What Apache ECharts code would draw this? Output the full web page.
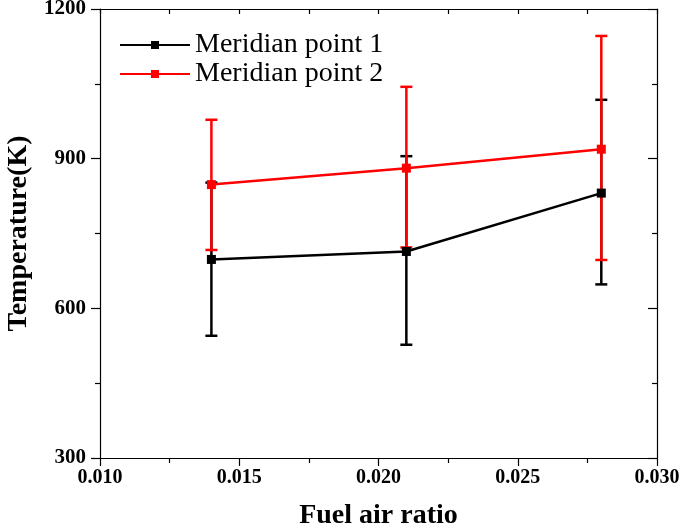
<!DOCTYPE html>
<html><head><meta charset="utf-8">
<script src="https://cdn.jsdelivr.net/npm/echarts@6/dist/echarts.min.js"></script>
<style>html,body{margin:0;padding:0;background:#fff}#c{width:685px;height:526px}</style>
</head><body><div id="c"></div>
<script>
const xValues = [0.014, 0.021, 0.028];
const s1Name = 'Meridian point 1';
const s1Mean = [698, 714, 831];
const s1Low = [545, 527, 648];
const s1High = [852, 905, 1018];
const s2Name = 'Meridian point 2';
const s2Mean = [848, 881, 919];
const s2Low = [717, 722, 697];
const s2High = [978, 1044, 1146];
const xTicks = [0.010, 0.015, 0.020, 0.025, 0.030];
const yTicks = [300, 600, 900, 1200];

const chart = echarts.init(document.getElementById('c'), null, {renderer: 'canvas'});
const serif = '"Liberation Serif", "Times New Roman", serif';

function errSeries(color, low, high) {
  return {
    type: 'custom',
    xAxisIndex: 0, yAxisIndex: 0,
    data: xValues.map((x, i) => [x, low[i], high[i]]),
    z: 3,
    renderItem: function (params, api) {
      const lo = api.coord([api.value(0), api.value(1)]);
      const hi = api.coord([api.value(0), api.value(2)]);
      const w = 6;
      const st = {stroke: color, lineWidth: 2.5};
      return {
        type: 'group',
        children: [
          {type: 'line', shape: {x1: lo[0], y1: lo[1], x2: hi[0], y2: hi[1]}, style: st},
          {type: 'line', shape: {x1: lo[0] - w, y1: lo[1], x2: lo[0] + w, y2: lo[1]}, style: st},
          {type: 'line', shape: {x1: hi[0] - w, y1: hi[1], x2: hi[0] + w, y2: hi[1]}, style: st}
        ]
      };
    }
  };
}

const axisLineStyle = {lineStyle: {color: '#000', width: 1.2}};
chart.setOption({
  animation: false,
  backgroundColor: '#fff',
  grid: {left: 100, right: 28, top: 9, bottom: 68, outerBoundsMode: 'none', containLabel: false},
  legend: {
    left: 114, top: 26, orient: 'vertical', itemGap: 1,
    itemWidth: 70, itemHeight: 10,
    textStyle: {fontFamily: serif, fontSize: 28, color: '#000', padding: [0, 0, 0, 0]},
    data: [s1Name, s2Name]
  },
  xAxis: [{
    type: 'value', min: 0.010, max: 0.030, interval: 0.005,
    position: 'bottom',
    name: 'Fuel air ratio', nameLocation: 'middle', nameGap: 44,
    nameTextStyle: {fontFamily: serif, fontSize: 28, fontWeight: 'bold', color: '#000'},
    axisLine: axisLineStyle,
    axisTick: {show: true, inside: false, length: 8, lineStyle: {color: '#000', width: 1.2}},
    minorTick: {show: true, splitNumber: 2, length: 5, lineStyle: {color: '#000', width: 1.2}},
    axisLabel: {fontFamily: serif, fontSize: 20, fontWeight: 'bold', color: '#000', margin: 10,
      formatter: v => v.toFixed(3)},
    splitLine: {show: false}
  }, {
    type: 'value', min: 0.010, max: 0.030, interval: 0.005,
    position: 'top',
    axisLine: axisLineStyle,
    axisTick: {show: true, inside: true, length: 5, lineStyle: {color: '#000', width: 1.2}},
    minorTick: {show: true, splitNumber: 2, length: 5, lineStyle: {color: '#000', width: 1.2}},
    axisLabel: {show: false},
    splitLine: {show: false}
  }],
  yAxis: [{
    type: 'value', min: 300, max: 1200, interval: 300,
    position: 'left',
    name: 'Temperature(K)', nameLocation: 'middle', nameGap: 66,
    nameTextStyle: {fontFamily: serif, fontSize: 28, fontWeight: 'bold', color: '#000'},
    axisLine: axisLineStyle,
    axisTick: {show: true, inside: false, length: 9, lineStyle: {color: '#000', width: 1.2}},
    minorTick: {show: true, splitNumber: 2, length: 5, lineStyle: {color: '#000', width: 1.2}},
    axisLabel: {fontFamily: serif, fontSize: 21, fontWeight: 'bold', color: '#000', margin: 14,
      formatter: v => String(v)},
    splitLine: {show: false}
  }, {
    type: 'value', min: 300, max: 1200, interval: 300,
    position: 'right',
    axisLine: axisLineStyle,
    axisTick: {show: true, inside: true, length: 9, lineStyle: {color: '#000', width: 1.2}},
    minorTick: {show: true, splitNumber: 2, length: 5, lineStyle: {color: '#000', width: 1.2}},
    axisLabel: {show: false},
    splitLine: {show: false}
  }],
  series: [
    errSeries('#000', s1Low, s1High),
    {
      name: s1Name, type: 'line', z: 4,
      data: xValues.map((x, i) => [x, s1Mean[i]]),
      symbol: 'rect', symbolSize: 9,
      lineStyle: {color: '#000', width: 2.5},
      itemStyle: {color: '#000'}
    },
    errSeries('#ff0000', s2Low, s2High),
    {
      name: s2Name, type: 'line', z: 5,
      data: xValues.map((x, i) => [x, s2Mean[i]]),
      symbol: 'rect', symbolSize: 9,
      lineStyle: {color: '#ff0000', width: 2.5},
      itemStyle: {color: '#ff0000'}
    }
  ]
});
</script></body></html>
